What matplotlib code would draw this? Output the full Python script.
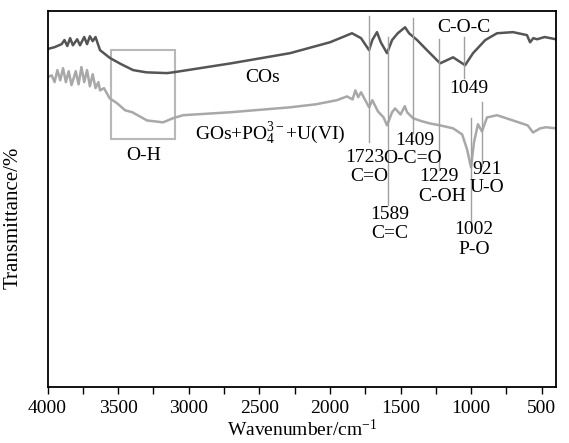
import matplotlib
matplotlib.use("Agg")
import matplotlib.pyplot as plt
from matplotlib.patches import Rectangle
from matplotlib.ticker import MultipleLocator

plt.rcParams["font.family"] = ["Liberation Serif", "DejaVu Serif"]
plt.rcParams["mathtext.fontset"] = "custom"
plt.rcParams["mathtext.rm"] = "Liberation Serif"
plt.rcParams["mathtext.it"] = "Liberation Serif:italic"

# COs spectrum (wavenumber, transmittance a.u.)
cos_wn = [4000, 3950, 3900, 3880, 3860, 3840, 3820, 3790, 3770, 3740, 3720, 3700,
          3680, 3660, 3640, 3628, 3557, 3480, 3394, 3300, 3154, 3111, 2700, 2283,
          2000, 1844, 1780, 1723, 1700, 1667, 1640, 1596, 1560, 1520, 1468, 1440,
          1383, 1313, 1220, 1128, 1043, 987, 900, 817, 704, 605, 583, 560, 533, 480, 400]
cos_t = [89.9, 90.4, 91.2, 92.3, 90.7, 92.8, 90.9, 92.5, 90.9, 93.1, 91.2, 93.3,
         92.0, 93.1, 90.9, 89.6, 87.5, 85.9, 84.3, 83.7, 83.5, 83.7, 86.1, 88.8,
         91.7, 94.1, 92.8, 89.6, 92.3, 94.4, 91.7, 88.8, 92.3, 94.1, 95.7, 94.1,
         92.3, 89.6, 86.1, 87.7, 85.6, 88.8, 92.3, 94.1, 94.4, 93.6, 91.7, 92.8, 92.5, 93.1, 92.5]

# GOs+PO4+U(VI) spectrum
gos_wn = [4000, 3970, 3950, 3930, 3910, 3890, 3870, 3850, 3830, 3800, 3780, 3760,
          3740, 3720, 3700, 3680, 3660, 3640, 3628, 3600, 3560, 3508, 3450, 3400,
          3295, 3182, 3111, 3040, 2700, 2283, 2100, 1950, 1880, 1840, 1820, 1800,
          1780, 1750, 1723, 1700, 1660, 1620, 1596, 1560, 1539, 1500, 1470, 1454,
          1412, 1350, 1291, 1220, 1128, 1064, 1029, 1001, 980, 952, 924, 888, 817,
          704, 600, 562, 512, 470, 400]
gos_t = [82.4, 82.9, 81.1, 84.3, 81.6, 84.8, 81.1, 84.0, 80.3, 84.0, 80.5, 85.1,
         81.1, 84.3, 80.0, 83.2, 79.5, 81.1, 78.9, 79.5, 76.8, 75.5, 73.6, 73.1,
         70.9, 70.4, 71.5, 72.3, 73.1, 74.4, 75.2, 76.3, 77.3, 76.5, 78.9, 77.1,
         78.4, 76.3, 74.4, 76.3, 73.3, 71.7, 69.6, 73.1, 74.1, 72.5, 74.7, 73.1,
         71.5, 70.7, 70.1, 69.6, 68.8, 67.2, 63.2, 58.4, 65.1, 69.9, 68.0, 71.7, 72.3,
         70.9, 69.6, 67.7, 68.8, 69.1, 68.8]

# peak marker lines: wavenumber, top, bottom
peak_wn = [1723, 1589, 1409, 1229, 1049, 1002, 921]
peak_top = [98.7, 93.1, 98.1, 92.5, 93.1, 71.5, 75.7]
peak_bot = [65.1, 48.3, 67.5, 57.6, 82.1, 43.7, 58.9]

# labels: text, wavenumber, y
labels = [
    ("1723", 1751, 61.1), ("C=O", 1723, 55.9),
    ("1409", 1397, 65.5), ("O-C=O", 1412, 60.9),
    ("1589", 1575, 46.0), ("C=C", 1575, 40.8),
    ("1229", 1227, 55.9), ("C-OH", 1206, 50.6),
    ("C-O-C", 1049, 95.7), ("1049", 1015, 79.5),
    ("1002", 980, 41.8), ("P-O", 980, 36.7),
    ("921", 888, 57.8), ("U-O", 888, 53.1),
    ("O-H", 3316, 61.6), ("COs", 2474, 82.4),
    (r"GOs+PO$_4^{3-}$+U(VI)", 2424, 67.5),
]

fig = plt.figure(figsize=(5.69, 4.43), dpi=100)
ax = fig.add_axes([0.0835, 0.1264, 0.8935, 0.8486])

ax.plot(gos_wn, gos_t, color="#a8a8a8", lw=1.8)
ax.plot(cos_wn, cos_t, color="#555555", lw=1.8)

for w, t, b in zip(peak_wn, peak_top, peak_bot):
    ax.plot([w, w], [b, t], color="#a0a0a0", lw=1.0)

ax.add_patch(Rectangle((3550, 65.9), 3097 - 3550, 89.6 - 65.9,
                       fill=False, edgecolor="#b8b8b8", lw=1.5))

for txt, w, y in labels:
    ax.text(w, y, txt, ha="center", va="center", fontsize=14)

ax.set_xlim(4000, 400)
ax.set_ylim(0, 100)
ax.xaxis.set_major_locator(MultipleLocator(500))
ax.xaxis.set_minor_locator(MultipleLocator(250))
ax.tick_params(axis="x", which="both", direction="out", length=5, width=1, labelsize=14, pad=4)
ax.set_yticks([])
for s in ax.spines.values():
    s.set_linewidth(1.3)

ax.set_xlabel("Wavenumber/cm$^{-1}$", fontsize=14, labelpad=2)
ax.set_ylabel("Transmittance/%", fontsize=15)
ax.yaxis.set_label_coords(-0.048, 0.45)

fig.savefig("out.png", dpi=100)
